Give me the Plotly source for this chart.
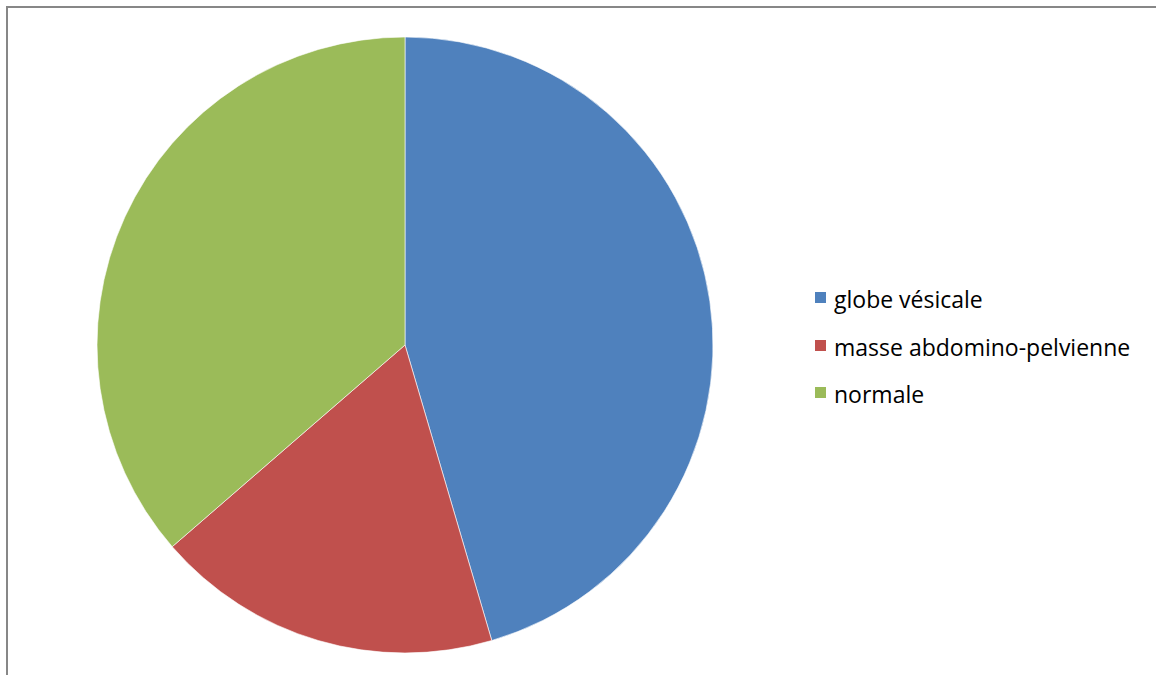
import plotly.graph_objects as go

labels = ["globe vésicale", "masse abdomino-pelvienne", "normale"]
values = [25, 10, 20]
colors = ["#4F81BD", "#C0504D", "#9BBB59"]

W, H = 1156, 675

fig = go.Figure(go.Pie(
    labels=labels,
    values=values,
    sort=False,
    direction="clockwise",
    rotation=0,
    marker=dict(colors=colors, line=dict(color="rgba(255,255,255,0.6)", width=1)),
    textinfo="none",
    hoverinfo="label+value+percent",
    showlegend=False,
    domain=dict(x=[97 / W, 713 / W], y=[(H - 653) / H, (H - 37) / H]),
))

shapes = [dict(type="rect", xref="paper", yref="paper",
               x0=7 / W, x1=1.05, y0=-0.05, y1=(H - 7) / H,
               line=dict(color="#878787", width=2), fillcolor="rgba(0,0,0,0)")]
annotations = []
legend_y = [297, 345, 392]
for lab, col, yy in zip(labels, colors, legend_y):
    shapes.append(dict(type="rect", xref="paper", yref="paper",
                       x0=815 / W, x1=826 / W,
                       y0=(H - yy - 6) / H, y1=(H - yy + 5) / H,
                       line=dict(width=0), fillcolor=col))
    annotations.append(dict(text=lab, xref="paper", yref="paper",
                            x=832 / W, y=(H - yy - 2) / H, xanchor="left", yanchor="middle",
                            showarrow=False,
                            font=dict(family="Open Sans, sans-serif", size=23, color="#000000")))

fig.update_layout(
    width=W, height=H,
    margin=dict(l=0, r=0, t=0, b=0),
    paper_bgcolor="white",
    plot_bgcolor="white",
    shapes=shapes,
    annotations=annotations,
)

fig.write_html("out.html")
